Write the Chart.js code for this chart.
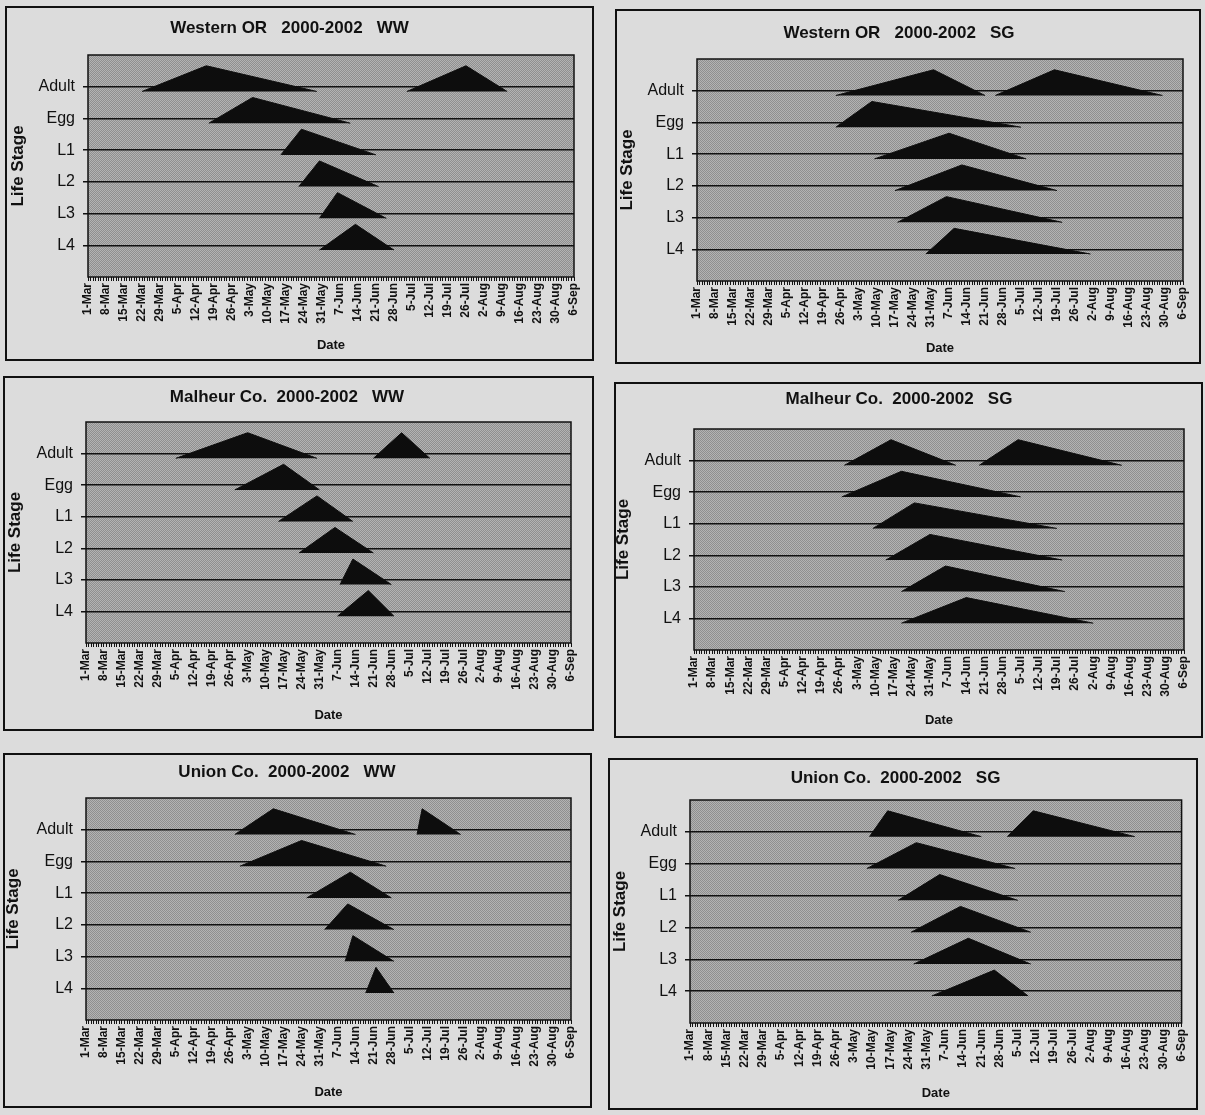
<!DOCTYPE html>
<html>
<head>
<meta charset="utf-8">
<script src="https://cdn.jsdelivr.net/npm/chart.js@4.4.0/dist/chart.umd.min.js"></script>
<style>
  body { margin: 0; background: #dcdcdc; width: 1205px; height: 1115px; position: relative; overflow: hidden; }
  canvas { position: absolute; }
</style>
</head>
<body>
<script>
const stages = ["Adult", "Egg", "L1", "L2", "L3", "L4"];
const dateLabels = ["1-Mar", "8-Mar", "15-Mar", "22-Mar", "29-Mar", "5-Apr", "12-Apr", "19-Apr", "26-Apr",
  "3-May", "10-May", "17-May", "24-May", "31-May", "7-Jun", "14-Jun", "21-Jun", "28-Jun", "5-Jul",
  "12-Jul", "19-Jul", "26-Jul", "2-Aug", "9-Aug", "16-Aug", "23-Aug", "30-Aug", "6-Sep"];

// one triangle per entry: first adult flight, second adult flight, then the other stages
const triangleStage = ["Adult", "Adult", "Egg", "L1", "L2", "L3", "L4"];

// days after 1-Mar (start of activity, peak, end)
const westernWWStart = [21, 124, 47, 75, 82, 90, 90];
const westernWWPeak  = [46, 147, 64, 83, 90, 97, 104];
const westernWWEnd   = [89, 163, 102, 112, 113, 116, 119];

const westernSGStart = [54, 116, 54, 69, 77, 78, 89];
const westernSGPeak  = [92, 139, 68, 98, 103, 97, 100];
const westernSGEnd   = [112, 181, 126, 128, 140, 142, 153];

const malheurWWStart = [35, 112, 58, 75, 83, 99, 98];
const malheurWWPeak  = [63, 123, 77, 90, 97, 104, 110];
const malheurWWEnd   = [90, 134, 91, 104, 112, 119, 120];

const malheurSGStart = [58, 110, 57, 69, 74, 80, 80];
const malheurSGPeak  = [76, 125, 80, 85, 91, 97, 105];
const malheurSGEnd   = [101, 165, 126, 140, 142, 143, 154];

const unionWWStart = [58, 129, 60, 86, 93, 101, 109];
const unionWWPeak  = [73, 131, 84, 103, 102, 104, 113];
const unionWWEnd   = [105, 146, 117, 119, 120, 120, 120];

const unionSGStart = [69, 122, 68, 80, 85, 86, 93];
const unionSGPeak  = [76, 132, 87, 96, 104, 107, 117];
const unionSGEnd   = [112, 171, 125, 126, 131, 131, 130];

Chart.defaults.font.family = "'Liberation Sans', Arial, sans-serif";
Chart.defaults.color = "#111";

const panels = [
  { title: "Western OR   2000-2002   WW", start: westernWWStart, peak: westernWWPeak, end: westernWWEnd,
    box: [5, 6, 594, 361], plot: [88, 55, 574, 277], titleY: 28, dateY: 345, lifeX: 18 },
  { title: "Western OR   2000-2002   SG", start: westernSGStart, peak: westernSGPeak, end: westernSGEnd,
    box: [615, 9, 1201, 364], plot: [697, 59, 1183, 281], titleY: 33, dateY: 348, lifeX: 627 },
  { title: "Malheur Co.  2000-2002   WW", start: malheurWWStart, peak: malheurWWPeak, end: malheurWWEnd,
    box: [3, 376, 594, 731], plot: [86, 422, 571, 643], titleY: 397, dateY: 715, lifeX: 15 },
  { title: "Malheur Co.  2000-2002   SG", start: malheurSGStart, peak: malheurSGPeak, end: malheurSGEnd,
    box: [614, 382, 1203, 738], plot: [694, 429, 1184, 650], titleY: 399, dateY: 720, lifeX: 623 },
  { title: "Union Co.  2000-2002   WW", start: unionWWStart, peak: unionWWPeak, end: unionWWEnd,
    box: [3, 753, 592, 1108], plot: [86, 798, 571, 1020], titleY: 772, dateY: 1092, lifeX: 13 },
  { title: "Union Co.  2000-2002   SG", start: unionSGStart, peak: unionSGPeak, end: unionSGEnd,
    box: [608, 758, 1198, 1110], plot: [690, 800, 1183, 1023], titleY: 778, dateY: 1093, lifeX: 620 },
];

// triangle shape relative to the stage line
const baseDrop = 0.15;
const apexRise = 0.66;
const titleSize = 17;

function stageValue(name) {
  return stages.length - stages.indexOf(name);
}

let stipplePattern = null;
function stipple(ctx) {
  if (!stipplePattern) {
    const c = document.createElement("canvas");
    c.width = 2; c.height = 2;
    const g = c.getContext("2d");
    g.fillStyle = "#b3b3b3"; g.fillRect(0, 0, 2, 2);
    g.fillStyle = "#8f8f8f"; g.fillRect(0, 0, 1, 1); g.fillRect(1, 1, 1, 1);
    stipplePattern = ctx.createPattern(c, "repeat");
  }
  return stipplePattern;
}

const plotFrame = {
  id: "plotFrame",
  beforeDraw(chart) {
    const { ctx, chartArea: a } = chart;
    ctx.save();
    ctx.fillStyle = stipple(ctx);
    ctx.fillRect(a.left, a.top, a.width, a.height);
    ctx.restore();
  },
  afterDraw(chart) {
    const { ctx, chartArea: a, width, height } = chart;
    ctx.save();
    ctx.strokeStyle = "#111";
    ctx.lineWidth = 1.5;
    ctx.strokeRect(a.left, a.top, a.width, a.height);
    ctx.lineWidth = 2;
    ctx.strokeRect(1, 1, width - 2, height - 2);
    ctx.restore();
  }
};

function makeChart(p) {
  const W = p.box[2] - p.box[0];
  const H = p.box[3] - p.box[1];
  const plotLeft = p.plot[0] - p.box[0];
  const plotTop = p.plot[1] - p.box[1];
  const plotRight = p.box[2] - p.plot[2];
  const plotBottom = p.box[3] - p.plot[3];

  const canvas = document.createElement("canvas");
  canvas.width = W;
  canvas.height = H;
  canvas.style.left = p.box[0] + "px";
  canvas.style.top = p.box[1] + "px";
  document.body.appendChild(canvas);

  const datasets = triangleStage.map((stage, i) => {
    const y = stageValue(stage);
    return {
      data: [
        { x: p.start[i], y: y - baseDrop },
        { x: p.peak[i], y: y + apexRise },
        { x: p.end[i], y: y - baseDrop },
      ],
      fill: { value: y - baseDrop },
      backgroundColor: "#0d0d0d",
      borderColor: "#0d0d0d",
      borderWidth: 1,
      pointRadius: 0,
      tension: 0,
    };
  });

  const titleLine = titleSize * 1.2;
  const titlePadTop = p.titleY - p.box[1] - titleLine / 2;

  return new Chart(canvas.getContext("2d"), {
    type: "line",
    data: { datasets },
    options: {
      responsive: false,
      animation: false,
      events: [],
      layout: { padding: { left: 0, top: 0, right: plotRight, bottom: 0 } },
      plugins: {
        legend: { display: false },
        tooltip: { enabled: false },
        title: {
          display: true,
          text: p.title,
          color: "#111",
          font: { size: titleSize, weight: "bold", lineHeight: 1.2 },
          padding: { top: titlePadTop, bottom: plotTop - titleLine - titlePadTop },
        },
      },
      scales: {
        x: {
          type: "linear",
          min: 0,
          max: 189,
          afterFit: (s) => { s.height = plotBottom; },
          grid: { display: true, drawOnChartArea: false, drawTicks: true, tickLength: 4, tickColor: "#111", tickWidth: 1 },
          border: { display: false },
          ticks: {
            stepSize: 1,
            autoSkip: false,
            minRotation: 90,
            maxRotation: 90,
            padding: 2,
            color: "#111",
            font: { size: 12, weight: "bold" },
            callback: (v) => (v % 7 === 0 ? dateLabels[v / 7] : ""),
          },
          title: {
            display: true,
            text: "Date",
            color: "#111",
            font: { size: 13, weight: "bold", lineHeight: 1.2 },
            padding: { top: 0, bottom: p.box[3] - p.dateY - 7.8 },
          },
        },
        y: {
          type: "linear",
          min: 0,
          max: 7,
          afterFit: (s) => { s.width = plotLeft; },
          grid: { color: "#111", lineWidth: 1.5, tickLength: 5, tickColor: "#111" },
          border: { display: false },
          ticks: {
            stepSize: 1,
            padding: 8,
            color: "#111",
            font: { size: 16 },
            callback: (v) => (v >= 1 && v <= stages.length ? stages[stages.length - v] : null),
          },
          title: {
            display: true,
            text: "Life Stage",
            color: "#111",
            font: { size: 17, weight: "bold", lineHeight: 1.2 },
            padding: { top: p.lifeX - p.box[0] - 10.2, bottom: 0 },
          },
        },
      },
    },
    plugins: [plotFrame],
  });
}

panels.forEach(makeChart);
</script>
</body>
</html>
